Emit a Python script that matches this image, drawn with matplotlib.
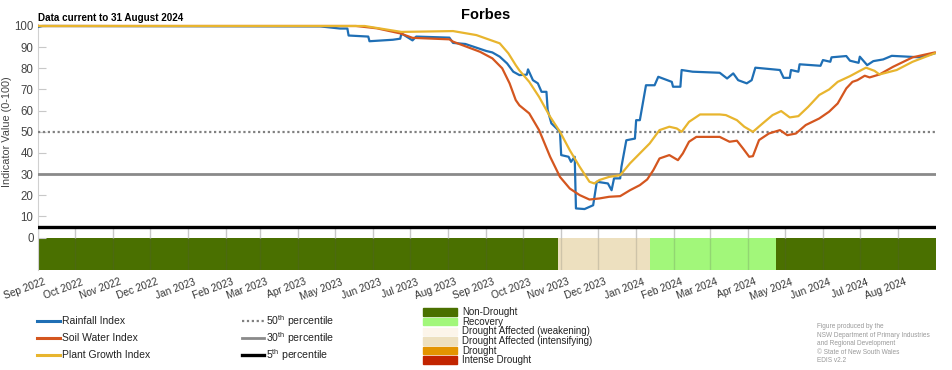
import pandas as pd
import matplotlib
matplotlib.use('Agg')
import matplotlib.pyplot as plt
import matplotlib.transforms as mtransforms
from matplotlib.lines import Line2D
from matplotlib.patches import Rectangle

plt.rcParams['font.family'] = ['Liberation Sans', 'DejaVu Sans']
plt.rcParams['mathtext.fontset'] = 'custom'
plt.rcParams['mathtext.rm'] = 'Liberation Sans'

# rainfall index (blue)
rain_dates = ['2022-09-01', '2022-09-05', '2023-04-19', '2023-05-05', '2023-05-11', '2023-05-12',
              '2023-05-28', '2023-05-29', '2023-06-17', '2023-06-23', '2023-06-24', '2023-07-03',
              '2023-07-06', '2023-08-02', '2023-08-05', '2023-08-15', '2023-09-01', '2023-09-06',
              '2023-09-12', '2023-09-18', '2023-09-23', '2023-09-28', '2023-10-04', '2023-10-05',
              '2023-10-09', '2023-10-13', '2023-10-16', '2023-10-20', '2023-10-21', '2023-10-24',
              '2023-10-31', '2023-11-01', '2023-11-07', '2023-11-09', '2023-11-12', '2023-11-13',
              '2023-11-20', '2023-11-27', '2023-11-30', '2023-12-09', '2023-12-12', '2023-12-14',
              '2023-12-19', '2023-12-20', '2023-12-24', '2023-12-31', '2024-01-01', '2024-01-04',
              '2024-01-09', '2024-01-16', '2024-01-19', '2024-01-30', '2024-01-31', '2024-02-06',
              '2024-02-07', '2024-02-16', '2024-03-09', '2024-03-15', '2024-03-20', '2024-03-24',
              '2024-03-31', '2024-04-04', '2024-04-07', '2024-04-27', '2024-04-30', '2024-05-05',
              '2024-05-06', '2024-05-12', '2024-05-13', '2024-05-30', '2024-06-01', '2024-06-07',
              '2024-06-08', '2024-06-20', '2024-06-23', '2024-06-30', '2024-07-01', '2024-07-07',
              '2024-07-12', '2024-07-20', '2024-07-27', '2024-08-19', '2024-08-31']
rain_vals = [99.5, 100, 99.8, 98.8, 98.8, 95.5,
             95.0, 92.8, 93.5, 94.0, 96.5, 93.2,
             95.0, 94.5, 92.0, 91.5, 88.2, 87.5,
             85.5, 82.3, 78.4, 76.8, 77.0, 79.5,
             74.4, 72.9, 68.9, 68.9, 60.3, 54.0,
             50.0, 39.0, 38.2, 35.8, 38.2, 13.8,
             13.5, 15.3, 26.4, 25.6, 22.4, 28.0,
             28.0, 33.4, 46.0, 46.8, 55.5, 55.5,
             72.0, 72.0, 76.0, 73.6, 71.3, 71.3,
             79.2, 78.4, 77.9, 75.2, 77.6, 74.4,
             72.9, 74.4, 80.3, 79.2, 75.5, 75.5,
             79.2, 78.4, 81.9, 81.2, 83.9, 83.1,
             85.2, 85.8, 83.6, 82.6, 85.5, 81.5,
             83.4, 84.2, 85.9, 85.2, 87.1]

soil_dates = ['2022-09-01', '2023-05-18', '2023-06-04', '2023-06-23', '2023-07-03', '2023-08-02',
              '2023-08-05', '2023-08-27', '2023-09-06', '2023-09-14', '2023-09-20', '2023-09-25',
              '2023-09-28', '2023-10-06', '2023-10-14', '2023-10-23', '2023-10-31', '2023-11-08',
              '2023-11-16', '2023-11-24', '2023-12-02', '2023-12-10', '2023-12-19', '2023-12-27',
              '2024-01-04', '2024-01-10', '2024-01-15', '2024-01-20', '2024-01-28', '2024-02-04',
              '2024-02-08', '2024-02-13', '2024-02-19', '2024-03-09', '2024-03-17', '2024-03-23',
              '2024-03-28', '2024-04-02', '2024-04-05', '2024-04-10', '2024-04-18', '2024-04-27',
              '2024-05-03', '2024-05-10', '2024-05-18', '2024-05-29', '2024-06-06', '2024-06-13',
              '2024-06-20', '2024-06-25', '2024-06-29', '2024-07-05', '2024-07-09', '2024-07-17',
              '2024-07-28', '2024-08-13', '2024-08-31']
soil_vals = [100, 100, 98.9, 96.5, 94.4, 93.7,
             92.6, 87.8, 84.7, 80.0, 72.9, 65.0,
             62.5, 58.7, 50.8, 38.2, 28.7, 23.2,
             20.1, 18.0, 18.5, 19.3, 19.6, 22.4,
             24.8, 27.5, 31.9, 37.4, 39.0, 36.6,
             39.8, 45.3, 47.6, 47.6, 45.3, 45.8,
             42.1, 38.2, 38.5, 46.1, 49.2, 50.8,
             48.4, 49.2, 53.2, 56.3, 59.5, 63.4,
             70.5, 73.6, 74.4, 76.5, 75.7, 77.1,
             80.7, 85.2, 87.5]

plant_dates = ['2022-09-01', '2023-05-25', '2023-06-24', '2023-08-05', '2023-08-24', '2023-09-12',
               '2023-09-19', '2023-09-25', '2023-09-28', '2023-10-06', '2023-10-14', '2023-10-23',
               '2023-10-31', '2023-11-08', '2023-11-16', '2023-11-24', '2023-11-28', '2023-12-02',
               '2023-12-10', '2023-12-19', '2023-12-27', '2024-01-04', '2024-01-12', '2024-01-20',
               '2024-01-28', '2024-02-03', '2024-02-07', '2024-02-13', '2024-02-22', '2024-03-09',
               '2024-03-14', '2024-03-23', '2024-03-29', '2024-04-05', '2024-04-13', '2024-04-21',
               '2024-04-28', '2024-05-05', '2024-05-12', '2024-05-20', '2024-05-29', '2024-06-06',
               '2024-06-13', '2024-06-23', '2024-07-01', '2024-07-06', '2024-07-13', '2024-07-17',
               '2024-07-31', '2024-08-13', '2024-08-31']
plant_vals = [100, 100, 97.2, 97.6, 95.7, 91.8,
              87.1, 81.5, 79.0, 73.6, 66.5, 57.1,
              50.0, 41.3, 33.5, 26.4, 25.6, 27.2,
              28.7, 29.5, 35.1, 39.8, 44.5, 50.8,
              52.4, 51.6, 50.0, 54.7, 58.2, 58.2,
              57.9, 55.5, 52.4, 50.0, 54.0, 57.9,
              59.8, 56.8, 57.4, 61.8, 67.4, 70.0,
              73.6, 76.3, 78.8, 80.3, 78.8, 77.1,
              79.2, 83.1, 87.1]

# drought status periods
status_starts = ['2022-09-01', '2023-10-29', '2024-01-12', '2024-04-24']
status_ends = ['2023-10-29', '2024-01-12', '2024-04-24', '2024-09-01']
status_cats = ['Non-Drought', 'Drought Affected (intensifying)', 'Recovery', 'Non-Drought']

categories = ['Non-Drought', 'Recovery', 'Drought Affected (weakening)',
              'Drought Affected (intensifying)', 'Drought', 'Intense Drought']
cat_colors = ['#4a7000', '#a2f77a', '#fcf5ea', '#ede0bf', '#e39400', '#c22400']
cat_color = dict(zip(categories, cat_colors))

percentiles = [50, 30, 5]
pct_styles = [dict(color='#808080', ls=(0, (1, 1.2)), lw=1.6),
              dict(color='#8a8a8a', ls='-', lw=2.0),
              dict(color='black', ls='-', lw=2.4)]

series = [('Rainfall Index', rain_dates, rain_vals, '#1f6fb5'),
          ('Soil Water Index', soil_dates, soil_vals, '#d4561f'),
          ('Plant Growth Index', plant_dates, plant_vals, '#e8b52e')]

W, H = 952, 370
fig = plt.figure(figsize=(W / 100, H / 100), dpi=100)
ymin, ymax = -15.3, 100.8
ax = fig.add_axes([37.7 / W, 1 - 270 / H, (936 - 37.7) / W, (270 - 24.3) / H])

months = pd.date_range('2022-09-01', '2024-08-01', freq='MS')
x0, x1 = pd.Timestamp('2022-09-01'), pd.Timestamp('2024-09-01')

for s, e, c in zip(status_starts, status_ends, status_cats):
    ax.fill_between([pd.Timestamp(s), pd.Timestamp(e)], ymin, 0, color=cat_color[c], lw=0, zorder=1)

ax.vlines(months, 0, 5, color='#c8c8c8', lw=1, zorder=2)
ax.vlines(months, ymin, 0, color='#555555', lw=1, alpha=0.2, zorder=2)

for p, st in zip(percentiles, pct_styles):
    ax.axhline(p, zorder=3, **st)

for name, d, v, col in series:
    ax.plot(pd.to_datetime(d), v, color=col, lw=1.6, zorder=4, solid_joinstyle='round')

ax.set_xlim(x0, x1)
ax.set_ylim(ymin, ymax)
ax.set_yticks(range(0, 101, 10))
ax.set_xticks(months)
ax.set_xticklabels([])
ax.tick_params(axis='x', length=0)

# month labels, drawn by hand so they can sit a little right of each tick
lab_tr = (mtransforms.blended_transform_factory(ax.transData, ax.transAxes)
          + mtransforms.ScaledTranslation(6 / 100, -7 / 100, fig.dpi_scale_trans))
for m in months:
    ax.text(m, 0, m.strftime('%b %Y'), transform=lab_tr, rotation=20, ha='right', va='top',
            rotation_mode='anchor', fontsize=7.3, color='#333333')

ax.tick_params(axis='y', direction='in', length=6, color='#c8c8c8', labelsize=8.3,
               labelcolor='#444444', pad=3)
for sp in ['top', 'right', 'bottom']:
    ax.spines[sp].set_visible(False)
ax.spines['left'].set_color('#d0d0d0')

fig.text(7 / W, 1 - 132 / H, 'Indicator Value (0-100)', rotation=90, ha='center', va='center',
         fontsize=7.8, color='#444444')
fig.text(486 / W, 1 - 15 / H, 'Forbes', ha='center', va='center', fontsize=10.5, fontweight='bold')
fig.text(37.7 / W, 1 - 18 / H, 'Data current to 31 August 2024', ha='left', va='center',
         fontsize=7.1, fontweight='bold')

# legend: index lines
for i, (name, d, v, col) in enumerate(series):
    yy = 1 - (321 + i * 17) / H
    fig.add_artist(Line2D([37 / W, 60 / W], [yy, yy], color=col, lw=2.2, transform=fig.transFigure))
    fig.text(62 / W, yy, name, ha='left', va='center', fontsize=7.5, color='#222222')

# legend: percentile lines
for i, (p, st) in enumerate(zip(percentiles, pct_styles)):
    yy = 1 - (321 + i * 17) / H
    fig.add_artist(Line2D([242 / W, 264 / W], [yy, yy], transform=fig.transFigure, **st))
    fig.text(266 / W, yy, '%d$^{\\mathrm{th}}$ percentile' % p, ha='left', va='center',
             fontsize=7.6, color='#222222')

# legend: drought categories
for i, (c, col) in enumerate(zip(categories, cat_colors)):
    yc = 312 + i * 9.65
    fig.add_artist(Rectangle((422.7 / W, 1 - (yc + 3.8) / H), 34.6 / W, 7.6 / H, color=col,
                             transform=fig.transFigure))
    fig.text(462 / W, 1 - yc / H, c, ha='left', va='center', fontsize=7.0, color='#222222')

credit = ['Figure produced by the', 'NSW Department of Primary Industries',
          'and Regional Development', '\u00a9 State of New South Wales', 'EDIS v2.2']
for i, t in enumerate(credit):
    fig.text(817 / W, 1 - (327 + i * 8.35) / H, t, ha='left', va='center', fontsize=4.7, color='#999999')

fig.savefig('out.png', dpi=100)
